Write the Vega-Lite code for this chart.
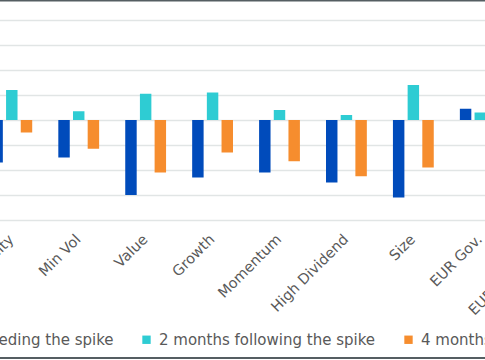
{
  "$schema": "https://vega.github.io/schema/vega-lite/v6.json",
  "width": 603,
  "height": 200,
  "autosize": {"type": "none"},
  "padding": {"left": -22, "top": 20, "right": -96, "bottom": 140},
  "background": "white",
  "config": {
    "view": {"stroke": null},
    "font": "DejaVu Sans",
    "axis": {"labelFont": "DejaVu Sans", "labelColor": "#595959"},
    "legend": {"labelFont": "DejaVu Sans", "labelColor": "#595959"}
  },
  "data": {
    "values": [
      {"category": "Quality", "series": "1 month preceding the spike", "value": -1.7},
      {"category": "Quality", "series": "2 months following the spike", "value": 1.2},
      {"category": "Quality", "series": "4 months following the spike", "value": -0.5},
      {"category": "Min Vol", "series": "1 month preceding the spike", "value": -1.5},
      {"category": "Min Vol", "series": "2 months following the spike", "value": 0.35},
      {"category": "Min Vol", "series": "4 months following the spike", "value": -1.15},
      {"category": "Value", "series": "1 month preceding the spike", "value": -3.0},
      {"category": "Value", "series": "2 months following the spike", "value": 1.05},
      {"category": "Value", "series": "4 months following the spike", "value": -2.1},
      {"category": "Growth", "series": "1 month preceding the spike", "value": -2.3},
      {"category": "Growth", "series": "2 months following the spike", "value": 1.1},
      {"category": "Growth", "series": "4 months following the spike", "value": -1.3},
      {"category": "Momentum", "series": "1 month preceding the spike", "value": -2.1},
      {"category": "Momentum", "series": "2 months following the spike", "value": 0.4},
      {"category": "Momentum", "series": "4 months following the spike", "value": -1.65},
      {"category": "High Dividend", "series": "1 month preceding the spike", "value": -2.5},
      {"category": "High Dividend", "series": "2 months following the spike", "value": 0.2},
      {"category": "High Dividend", "series": "4 months following the spike", "value": -2.25},
      {"category": "Size", "series": "1 month preceding the spike", "value": -3.1},
      {"category": "Size", "series": "2 months following the spike", "value": 1.4},
      {"category": "Size", "series": "4 months following the spike", "value": -1.9},
      {"category": "EUR Gov.", "series": "1 month preceding the spike", "value": 0.45},
      {"category": "EUR Gov.", "series": "2 months following the spike", "value": 0.3},
      {"category": "EUR Gov.", "series": "4 months following the spike", "value": -0.2},
      {"category": "EUR Corporate", "series": "1 month preceding the spike", "value": -0.5},
      {"category": "EUR Corporate", "series": "2 months following the spike", "value": 0.6},
      {"category": "EUR Corporate", "series": "4 months following the spike", "value": -0.4}
    ]
  },
  "layer": [
    {
      "mark": {"type": "bar"},
      "encoding": {
        "x": {
          "field": "category",
          "type": "nominal",
          "sort": ["Quality", "Min Vol", "Value", "Growth", "Momentum", "High Dividend", "Size", "EUR Gov.", "EUR Corporate"],
          "scale": {"paddingInner": 0.39, "paddingOuter": 0.2},
          "axis": {
            "title": null,
            "labelAngle": -45,
            "labelAlign": "right",
            "labelBaseline": "middle",
            "labelFontSize": 14.5,
            "labelPadding": 17,
            "ticks": false,
            "domain": false,
            "labelOverlap": false,
            "labelLimit": 0,
            "labelBound": false
          }
        },
        "xOffset": {
          "field": "series",
          "type": "nominal",
          "sort": ["1 month preceding the spike", "2 months following the spike", "4 months following the spike"],
          "scale": {"paddingInner": 0.22, "paddingOuter": 0}
        },
        "y": {
          "field": "value",
          "type": "quantitative",
          "scale": {"domain": [-4, 4], "nice": false},
          "axis": {
            "title": null,
            "labels": false,
            "ticks": false,
            "domain": false,
            "grid": true,
            "values": [-4, -3, -2, -1, 0, 1, 2, 3, 4],
            "gridColor": "#e1e5e5",
            "gridWidth": 1.5
          }
        },
        "color": {
          "field": "series",
          "type": "nominal",
          "sort": ["1 month preceding the spike", "2 months following the spike", "4 months following the spike"],
          "scale": {
            "domain": ["1 month preceding the spike", "2 months following the spike", "4 months following the spike"],
            "range": ["#004BBB", "#2ECCD3", "#F68D2E"]
          },
          "legend": {
            "title": null,
            "orient": "none",
            "direction": "horizontal",
            "legendX": -100,
            "legendY": 312,
            "symbolType": "square",
            "symbolSize": 70,
            "symbolStrokeWidth": 0,
            "labelFontSize": 15,
            "labelLimit": 0,
            "columnPadding": 25,
            "labelOffset": 5
          }
        }
      }
    },
    {
      "data": {"values": [{"frame": "border"}]},
      "mark": {"type": "rule", "color": "#555e62", "strokeWidth": 2},
      "encoding": {
        "y": {
          "datum": 4.78,
          "axis": {
            "title": null,
            "labels": false,
            "ticks": false,
            "domain": false,
            "grid": true,
            "values": [-4, -3, -2, -1, 0, 1, 2, 3, 4],
            "gridColor": "#e1e5e5",
            "gridWidth": 1.5
          }
        }
      }
    },
    {
      "data": {"values": [{"frame": "border"}]},
      "mark": {"type": "rule", "color": "#555e62", "strokeWidth": 2},
      "encoding": {
        "y": {
          "datum": -9.52,
          "axis": {
            "title": null,
            "labels": false,
            "ticks": false,
            "domain": false,
            "grid": true,
            "values": [-4, -3, -2, -1, 0, 1, 2, 3, 4],
            "gridColor": "#e1e5e5",
            "gridWidth": 1.5
          }
        }
      }
    }
  ]
}
